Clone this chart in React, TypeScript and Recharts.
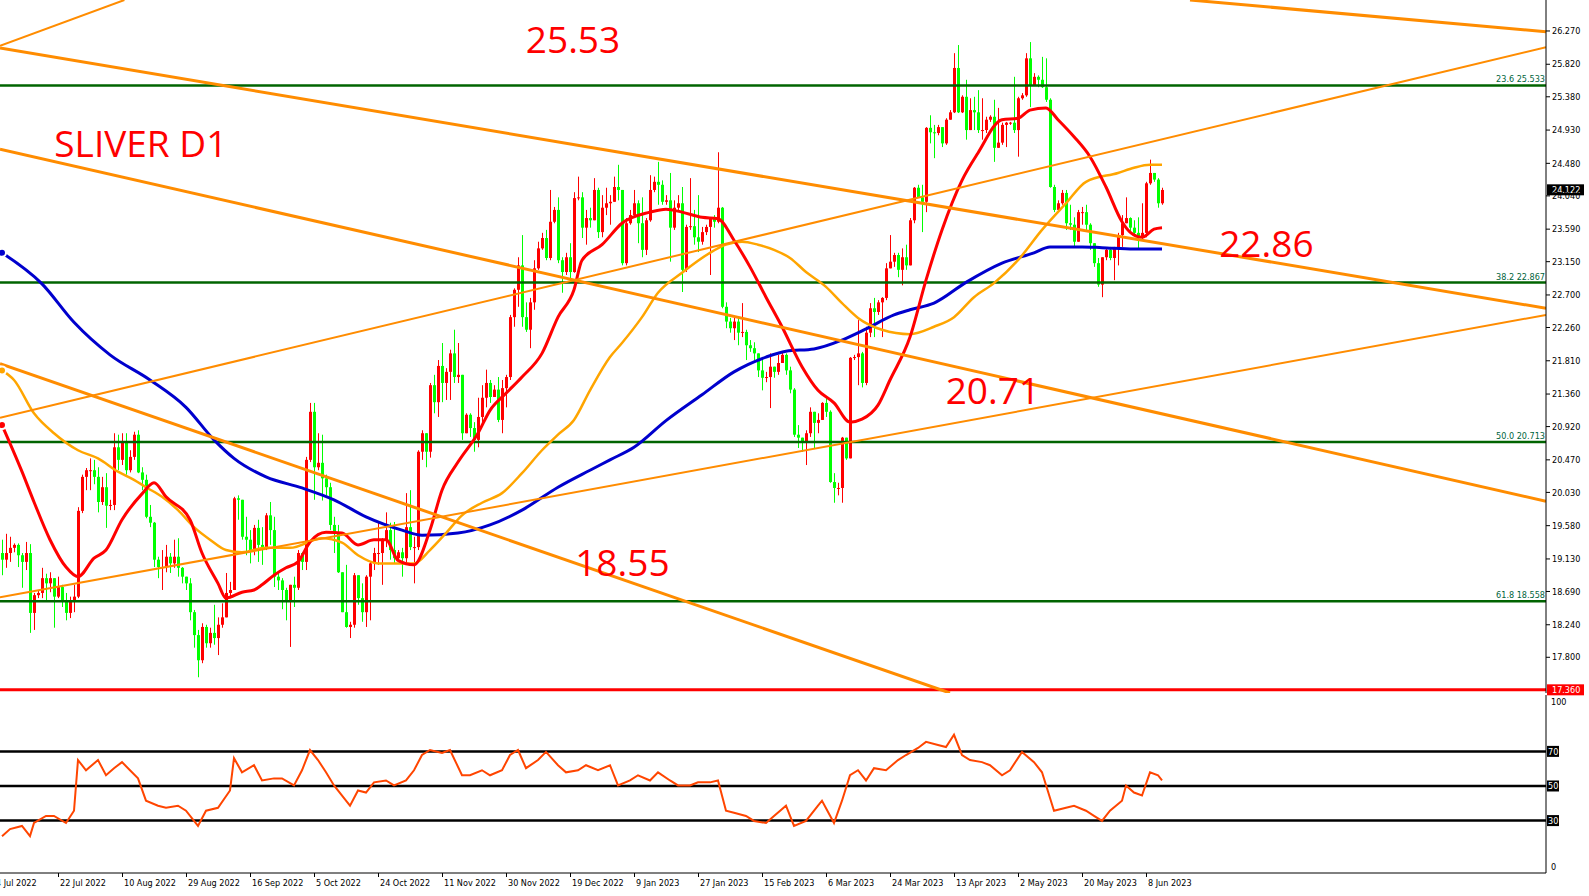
import { ComposedChart, Bar, Line, XAxis, YAxis, ReferenceLine, ReferenceDot } from 'recharts';

const NARROW = "'Liberation Sans Narrow', 'DejaVu Sans Condensed', 'Liberation Sans', sans-serif";
const SMALL = 9;

// daily bars, one per index (Sunday bars included); open = previous close
const firstOpen = 19.21;
const close = [
  19.12, 19.21, 19.28, 19.32, 19.18, 19.09, 19.21, 18.40, 18.64, 18.67,
  18.87, 18.80, 18.87, 18.62, 18.75, 18.57, 18.40, 18.57, 18.62, 19.78,
  20.24, 20.33, 20.33, 20.24, 19.90, 20.10, 19.85, 19.86, 20.64, 20.47,
  20.71, 20.33, 20.51, 20.81, 20.30, 20.20, 19.70, 19.62, 19.12, 19.02,
  19.02, 19.16, 19.07, 19.16, 19.01, 18.89, 18.80, 18.41, 18.10, 17.76,
  18.21, 17.99, 18.13, 18.06, 18.24, 18.34, 18.67, 18.71, 19.95, 19.93,
  19.43, 19.39, 19.25, 19.55, 19.32, 19.29, 19.72, 19.52, 18.89, 18.84,
  18.71, 18.55, 18.78, 18.74, 19.21, 19.09, 20.47, 21.12, 20.37, 20.43,
  20.22, 20.10, 19.59, 19.48, 18.95, 18.41, 18.21, 18.24, 18.91, 18.60,
  18.41, 18.89, 19.07, 19.21, 19.21, 19.39, 19.52, 19.25, 19.14, 19.22,
  19.14, 19.56, 19.29, 19.29, 20.58, 20.83, 20.58, 21.48, 21.25, 21.74,
  21.51, 21.66, 21.91, 21.59, 21.62, 20.83, 21.08, 20.90, 20.74, 21.05,
  21.31, 21.51, 21.32, 21.42, 21.01, 21.44, 21.59, 22.40, 22.77, 23.10,
  22.40, 22.23, 22.60, 23.06, 23.33, 23.47, 23.20, 23.69, 23.85, 23.17,
  23.01, 23.21, 23.01, 24.01, 24.02, 23.61, 23.74, 23.71, 24.12, 23.55,
  23.88, 23.94, 23.96, 24.16, 24.12, 23.13, 23.67, 23.78, 23.94, 23.67,
  23.31, 23.71, 24.12, 24.23, 24.19, 23.96, 23.98, 23.61, 23.88, 23.94,
  23.04, 23.62, 23.63, 23.48, 23.42, 23.55, 23.62, 23.74, 23.69, 23.88,
  22.54, 22.34, 22.25, 22.34, 22.19, 22.20, 22.02, 21.98, 21.91, 21.68,
  21.58, 21.59, 21.73, 21.66, 21.78, 21.89, 21.68, 21.42, 20.81, 20.77,
  20.71, 20.83, 21.12, 20.97, 21.01, 21.24, 21.12, 20.17, 20.09, 20.09,
  20.77, 20.49, 21.85, 21.86, 21.91, 21.51, 22.19, 22.52, 22.47, 22.60,
  22.66, 23.06, 23.15, 23.24, 23.04, 23.21, 23.10, 23.71, 24.15, 24.02,
  23.96, 24.96, 24.90, 24.89, 24.97, 24.75, 25.07, 25.17, 25.77, 25.17,
  25.38, 24.93, 25.20, 25.17, 24.93, 24.93, 25.07, 25.11, 24.69, 24.76,
  25.00, 25.03, 25.03, 24.93, 25.36, 25.40, 25.90, 25.54, 25.65, 25.61,
  25.51, 25.34, 24.16, 23.85, 23.94, 24.08, 23.67, 23.65, 23.42, 23.82,
  23.82, 23.65, 23.40, 23.13, 22.84, 23.21, 23.31, 23.20, 23.33, 23.51,
  23.67, 23.74, 23.61, 23.54, 23.47, 23.54, 24.21, 24.35, 24.26, 23.94,
  24.12,
];
const high = [
  19.39, 19.47, 19.43, 19.34, 19.34, 19.21, 19.36, 19.33, 18.67, 18.71,
  19.01, 18.93, 18.95, 18.85, 18.89, 18.78, 18.67, 18.62, 18.78, 19.83,
  20.27, 20.36, 20.49, 20.47, 20.37, 20.24, 20.29, 19.93, 20.83, 20.81,
  20.83, 20.83, 20.60, 20.85, 20.87, 20.37, 20.27, 19.86, 19.63, 19.16,
  19.25, 19.32, 19.21, 19.39, 19.41, 19.02, 18.87, 18.87, 18.44, 18.17,
  18.26, 18.24, 18.20, 18.51, 18.34, 18.53, 18.94, 18.82, 19.97, 19.99,
  19.70, 19.70, 19.52, 19.59, 19.66, 19.56, 19.75, 19.90, 19.70, 18.94,
  18.87, 18.74, 18.78, 18.89, 19.25, 19.22, 20.51, 21.24, 21.24, 20.83,
  20.81, 20.27, 20.16, 19.70, 19.59, 18.95, 19.05, 18.28, 18.94, 18.78,
  18.80, 18.91, 19.09, 19.28, 19.62, 19.41, 19.76, 19.62, 19.63, 19.25,
  19.28, 20.02, 20.06, 19.43, 20.60, 20.87, 20.83, 21.51, 21.62, 21.82,
  22.05, 21.71, 21.96, 22.23, 22.05, 21.59, 21.10, 21.10, 20.98, 21.31,
  21.48, 21.69, 21.55, 21.48, 21.59, 21.55, 21.62, 22.43, 22.79, 23.21,
  23.51, 22.60, 22.66, 23.17, 23.42, 23.54, 23.58, 24.12, 23.89, 24.02,
  23.21, 23.27, 23.40, 24.09, 24.30, 24.09, 23.85, 23.88, 24.28, 24.15,
  24.05, 24.15, 24.05, 24.30, 24.46, 24.12, 23.74, 23.85, 24.12, 23.98,
  24.02, 23.74, 24.32, 24.30, 24.50, 24.25, 24.05, 24.35, 23.98, 24.05,
  24.16, 23.65, 24.28, 23.85, 24.05, 23.62, 23.65, 23.75, 23.78, 24.63,
  23.89, 22.60, 22.39, 22.40, 22.40, 22.59, 22.23, 22.09, 22.06, 21.86,
  21.82, 21.66, 21.91, 21.71, 21.89, 21.93, 21.91, 21.73, 21.44, 20.94,
  20.74, 20.87, 21.18, 21.12, 21.10, 21.25, 21.31, 21.14, 20.29, 20.16,
  20.78, 20.67, 21.86, 21.89, 22.36, 21.93, 22.27, 22.59, 22.66, 22.63,
  22.67, 23.13, 23.51, 23.27, 23.27, 23.33, 23.38, 23.74, 24.16, 24.19,
  24.19, 24.97, 25.13, 25.00, 25.00, 24.80, 25.09, 25.20, 25.97, 26.08,
  25.40, 25.61, 25.36, 25.38, 25.47, 25.36, 25.11, 25.13, 25.34, 25.23,
  25.03, 25.04, 25.04, 25.65, 25.38, 25.43, 25.97, 26.12, 25.70, 25.67,
  25.92, 25.90, 25.36, 24.19, 23.98, 24.12, 24.12, 23.92, 23.75, 23.85,
  23.89, 23.92, 23.67, 23.40, 23.20, 23.21, 23.33, 23.35, 23.35, 23.54,
  23.78, 24.02, 23.75, 23.71, 23.75, 23.94, 24.23, 24.53, 24.35, 24.28,
  24.15,
];
const low = [
  18.91, 19.01, 19.09, 19.22, 19.02, 18.74, 18.98, 18.13, 18.17, 18.60,
  18.60, 18.57, 18.68, 18.20, 18.60, 18.48, 18.30, 18.33, 18.41, 18.60,
  19.75, 20.06, 20.06, 20.14, 19.76, 19.86, 19.55, 19.79, 19.79, 20.33,
  20.40, 20.27, 20.30, 20.47, 20.29, 20.06, 19.68, 19.56, 19.02, 18.87,
  18.71, 18.95, 18.94, 19.01, 18.89, 18.80, 18.71, 18.30, 17.93, 17.53,
  17.72, 17.93, 17.93, 17.97, 17.83, 18.20, 18.40, 18.60, 18.80, 19.66,
  19.39, 19.18, 19.07, 19.18, 19.09, 19.05, 19.25, 19.32, 18.75, 18.71,
  18.45, 18.30, 17.94, 18.48, 18.71, 18.98, 18.98, 20.44, 19.93, 20.33,
  19.92, 19.99, 19.52, 19.21, 18.94, 18.41, 18.20, 18.06, 18.20, 18.51,
  18.28, 18.21, 18.30, 18.98, 19.05, 18.78, 19.29, 19.12, 19.07, 19.09,
  18.89, 19.07, 19.25, 18.80, 19.25, 20.47, 20.37, 20.50, 21.10, 21.05,
  21.25, 21.28, 21.28, 21.51, 21.51, 20.74, 20.83, 20.78, 20.58, 20.64,
  20.94, 21.18, 21.24, 21.32, 20.98, 20.83, 21.18, 21.55, 22.27, 22.54,
  22.27, 22.20, 21.98, 22.50, 23.04, 23.31, 23.17, 23.17, 23.67, 23.13,
  22.73, 22.97, 22.88, 23.00, 23.98, 23.47, 23.38, 23.61, 23.89, 23.47,
  23.48, 23.78, 23.65, 24.02, 23.98, 23.10, 23.10, 23.65, 23.78, 23.40,
  23.21, 23.24, 23.69, 24.09, 23.92, 23.92, 23.92, 23.15, 23.58, 23.85,
  22.74, 23.01, 23.58, 23.38, 23.28, 23.38, 23.51, 22.97, 23.61, 23.67,
  22.52, 22.25, 22.19, 22.09, 22.02, 22.13, 21.82, 21.93, 21.82, 21.59,
  21.41, 21.52, 21.17, 21.58, 21.62, 21.79, 21.62, 21.37, 20.78, 20.63,
  20.58, 20.40, 20.78, 20.63, 20.83, 21.18, 21.05, 20.16, 19.89, 19.99,
  19.89, 20.47, 20.58, 21.82, 21.48, 21.45, 21.48, 22.13, 22.13, 22.43,
  22.13, 22.63, 23.06, 23.08, 22.94, 22.83, 23.04, 23.24, 23.67, 24.02,
  23.55, 23.82, 24.75, 24.55, 24.86, 24.70, 24.73, 25.07, 25.16, 25.16,
  25.16, 24.80, 24.93, 24.93, 24.89, 24.80, 24.89, 25.04, 24.50, 24.70,
  24.73, 24.70, 25.00, 24.89, 24.57, 25.34, 25.38, 25.24, 25.57, 25.51,
  25.50, 25.31, 24.15, 23.82, 23.82, 23.92, 23.58, 23.58, 23.35, 23.48,
  23.65, 23.58, 23.31, 23.08, 22.81, 22.67, 23.17, 23.17, 22.90, 23.10,
  23.35, 23.74, 23.55, 23.51, 23.31, 23.44, 23.48, 24.19, 24.23, 23.88,
  23.92,
];

// moving averages read at sample bars: [bar, value]
const fastMa = [[0,20.94],[5,20.31],[8,19.90],[12,19.39],[16,19.02],[19,18.89],[23,19.14],[26,19.25],[30,19.66],[35,20.01],[38,20.16],[41,19.97],[47,19.66],[50,19.21],[54,18.80],[56,18.60],[60,18.68],[63,18.71],[65,18.78],[68,18.91],[71,19.01],[74,19.09],[77,19.36],[81,19.49],[85,19.48],[89,19.32],[93,19.39],[96,19.39],[99,19.11],[103,19.05],[107,19.52],[110,20.06],[114,20.44],[119,20.83],[122,21.14],[126,21.37],[130,21.59],[135,21.91],[139,22.40],[143,22.77],[145,23.17],[150,23.38],[155,23.67],[162,23.82],[166,23.86],[170,23.82],[175,23.75],[179,23.73],[183,23.44],[187,23.08],[191,22.67],[195,22.27],[200,21.73],[204,21.41],[208,21.24],[212,20.98],[215,21.02],[219,21.21],[222,21.55],[227,22.13],[231,22.90],[235,23.58],[240,24.25],[244,24.62],[250,25.07],[254,25.09],[257,25.20],[261,25.23],[264,25.07],[268,24.84],[272,24.57],[276,24.16],[280,23.69],[282,23.55],[285,23.48],[288,23.59],[290,23.61]];
const midMa = [[0,21.68],[3,21.55],[8,21.10],[13,20.83],[19,20.60],[24,20.49],[29,20.31],[33,20.20],[36,20.10],[40,19.97],[44,19.79],[48,19.56],[52,19.39],[56,19.25],[60,19.22],[66,19.28],[72,19.28],[80,19.41],[85,19.35],[89,19.18],[94,19.07],[100,19.07],[103,19.07],[107,19.25],[111,19.48],[115,19.72],[120,19.89],[125,20.02],[130,20.29],[135,20.60],[139,20.81],[143,21.01],[147,21.41],[152,21.86],[155,22.05],[160,22.40],[164,22.73],[170,23.00],[177,23.27],[181,23.38],[185,23.42],[189,23.38],[193,23.31],[197,23.20],[201,23.01],[206,22.81],[210,22.59],[214,22.39],[220,22.23],[227,22.17],[233,22.27],[238,22.40],[243,22.67],[248,22.86],[254,23.17],[260,23.58],[266,23.94],[271,24.23],[279,24.35],[283,24.42],[287,24.46],[290,24.46]];
const slowMa = [[0,23.27],[10,22.85],[18,22.33],[27,21.89],[37,21.55],[46,21.18],[53,20.74],[58,20.49],[66,20.24],[75,20.09],[83,19.93],[91,19.70],[100,19.52],[105,19.45],[114,19.48],[122,19.59],[130,19.79],[139,20.10],[147,20.33],[152,20.47],[158,20.64],[166,21.00],[175,21.35],[183,21.66],[191,21.86],[196,21.94],[203,21.97],[210,22.09],[216,22.24],[223,22.43],[227,22.50],[233,22.59],[241,22.87],[250,23.13],[258,23.27],[262,23.35],[270,23.35],[275,23.34],[283,23.32],[290,23.32]];

const rsiPts = [[0,21.0],[2,25.1],[5,26.9],[7,21.0],[8,28.6],[11,32.7],[13,32.7],[16,28.6],[18,35.7],[19,65.0],[21,59.1],[24,65.0],[26,56.2],[28,60.3],[30,63.8],[32,59.1],[34,54.4],[36,41.5],[39,38.6],[41,37.4],[44,38.6],[46,35.7],[49,26.9],[51,35.7],[54,37.4],[57,47.4],[58,66.1],[60,57.9],[63,62.0],[65,53.2],[68,54.4],[70,54.4],[73,50.3],[75,59.1],[77,70.8],[79,65.0],[81,57.9],[83,50.3],[86,41.5],[87,38.6],[89,47.4],[91,46.2],[93,52.1],[96,53.2],[98,50.3],[101,53.2],[103,59.1],[105,67.9],[107,70.8],[110,69.1],[112,70.8],[115,56.2],[117,56.2],[120,59.1],[122,56.2],[125,59.1],[127,67.9],[129,70.8],[131,60.3],[134,65.0],[136,69.7],[139,62.0],[141,57.9],[144,59.1],[146,62.0],[149,59.1],[152,62.0],[154,50.3],[157,53.2],[159,56.2],[162,53.2],[164,57.9],[167,53.2],[169,50.3],[172,50.3],[174,52.1],[177,52.1],[179,53.2],[181,35.7],[183,34.5],[186,32.7],[188,29.8],[191,28.6],[193,32.7],[196,38.6],[198,26.9],[201,29.8],[204,38.6],[205,41.5],[208,28.6],[210,41.5],[212,56.2],[214,59.1],[216,53.2],[218,60.3],[221,59.1],[224,65.0],[226,67.9],[229,72.0],[231,75.5],[234,73.7],[236,72.5],[238,79.6],[240,67.9],[242,65.0],[245,63.8],[247,62.0],[250,56.2],[252,59.1],[255,69.7],[258,63.8],[260,57.9],[263,35.7],[266,37.4],[268,38.6],[271,35.7],[273,32.7],[275,29.8],[277,35.7],[280,41.5],[281,50.3],[283,46.2],[285,44.5],[287,57.9],[289,56.2],[290,53.2]];

// trend lines: [bar, price] -> [bar, price]
const thickTrends = [
  [[-0.5, 26.04], [386, 22.52]],
  [[-0.5, 24.67], [386, 19.91]],
  [[-0.5, 21.77], [237, 17.317]],
  [[297, 26.689], [386, 26.26]],
];
const thinTrends = [
  [[-0.5, 21.04], [386, 26.05]],
  [[-0.5, 18.61], [386, 22.43]],
  [[-0.5, 26.07], [30.6, 26.689]],
];

const fibPct = ['23.6', '38.2', '50.0', '61.8'];
const fibLevels = [25.533, 22.867, 20.713, 18.558];
const lastPrice = 24.122;
const lowLine = 17.36;

const notes = ['25.53', 'SLIVER D1', '22.86', '20.71', '18.55'];
const notePos = [[142.75, 26.155], [34.7, 24.75], [316.1, 23.39], [247.7, 21.41], [155.1, 19.08]];

const priceTicks = [17.8, 18.24, 18.69, 19.13, 19.58, 20.03, 20.47, 20.92, 21.36, 21.81, 22.26, 22.7, 23.15, 23.59, 24.04, 24.48, 24.93, 25.38, 25.82, 26.27];
const dateTicks = [-2, 14, 30, 46, 62, 78, 94, 110, 126, 142, 158, 174, 190, 206, 222, 238, 254, 270, 286];
const dateLabels = ['4 Jul 2022', '22 Jul 2022', '10 Aug 2022', '29 Aug 2022', '16 Sep 2022', '5 Oct 2022', '24 Oct 2022', '11 Nov 2022', '30 Nov 2022', '19 Dec 2022', '9 Jan 2023', '27 Jan 2023', '15 Feb 2023', '6 Mar 2023', '24 Mar 2023', '13 Apr 2023', '2 May 2023', '20 May 2023', '8 Jun 2023'];
const rsiLevels = [70, 50, 30];
const rsiEnds = [0, 100];

const X_DOMAIN = [-0.5, 386];

const toMap = (pts: number[][]) => new Map(pts.map(([i, v]) => [i, v]));
const fastMap = toMap(fastMa);
const midMap = toMap(midMa);
const slowMap = toMap(slowMa);

const rows = close.map((c, i) => {
  const o = i === 0 ? firstOpen : close[i - 1];
  return {
    i,
    open: o,
    close: c,
    high: Math.max(high[i], o, c),
    low: Math.min(low[i], o, c),
    fast: fastMap.get(i) ?? null,
    mid: midMap.get(i) ?? null,
    slow: slowMap.get(i) ?? null,
  };
});
const rsiRows = rsiPts.map(([i, v]) => ({ i, rsi: v }));

const Candle = (props: any) => {
  const { x, y, width, height, payload } = props;
  if (!payload || x == null || y == null) return null;
  const top = Math.min(y, y + height);
  const span = Math.abs(height);
  const rng = payload.high - payload.low || 1;
  const py = (v: number) => top + ((payload.high - v) / rng) * span;
  const cx = Math.round(x + width / 2) + 0.5;
  const color = payload.close >= payload.open ? '#ff0000' : '#00ff00';
  const yo = py(payload.open);
  const yc = py(payload.close);
  return (
    <g>
      <line x1={cx} x2={cx} y1={top} y2={top + span} stroke={color} strokeWidth={1} />
      <rect x={cx - 1.5} y={Math.min(yo, yc)} width={3} height={Math.max(1, Math.abs(yo - yc))} fill={color} />
    </g>
  );
};

const DateTick = ({ x, y, payload }: any) => {
  const k = dateTicks.indexOf(payload.value);
  return (
    <g>
      <line x1={x + 0.5} x2={x + 0.5} y1={y} y2={y + 4} stroke="#000" />
      <text x={x + 2} y={y + 13} fontSize={SMALL} fontFamily={NARROW} fill="#000" textAnchor="start">
        {dateLabels[k]}
      </text>
    </g>
  );
};

const RsiTick = ({ x, y, payload }: any) => (
  <text x={x + 5} y={y} dy={payload.value > 50 ? 6 : -2} fontSize={SMALL} fontFamily={NARROW} fill="#000" textAnchor="start">
    {payload.value}
  </text>
);

const axisBox = (text: string, bg: string, w: number, pad: number) => (p: any) => {
  const vb = p.viewBox;
  const x0 = vb.x + vb.width + 1;
  return (
    <g>
      <rect x={x0} y={vb.y - 5.5} width={w} height={11} fill={bg} />
      <text x={x0 + pad} y={vb.y + 3.5} fontSize={SMALL} fontFamily={NARROW} fill="#fff">{text}</text>
    </g>
  );
};

export default function App() {
  return (
    <div style={{ position: 'relative', width: 1589, height: 896, background: '#fff', overflow: 'hidden' }}>
      <style>{'body{margin:0}'}</style>
      <div style={{ position: 'absolute', left: 0, top: 695 }}>
        <ComposedChart width={1589} height={201} data={rsiRows} margin={{ top: 0, right: 0, bottom: 0, left: 0 }}>
          <XAxis
            type="number"
            dataKey="i"
            domain={X_DOMAIN}
            allowDataOverflow
            ticks={dateTicks}
            interval={0}
            height={23}
            tickSize={0}
            tickMargin={0}
            axisLine={{ stroke: '#000' }}
            tickLine={false}
            tick={<DateTick />}
          />
          <XAxis xAxisId="top" type="number" dataKey="i" orientation="top" domain={X_DOMAIN} allowDataOverflow height={0} tick={false} tickLine={false} axisLine={{ stroke: '#000' }} />
          <YAxis
            orientation="right"
            width={43}
            domain={[-0.3, 102.6]}
            allowDataOverflow
            ticks={rsiEnds}
            interval={0}
            tickLine={false}
            tickSize={0}
            tickMargin={0}
            axisLine={{ stroke: '#000' }}
            tick={<RsiTick />}
          />
          {rsiLevels.map((v) => (
            <ReferenceLine key={v} y={v} stroke="#000" strokeWidth={2.5} label={axisBox(String(v), '#000', 12, 1)} />
          ))}
          <Line dataKey="rsi" type="linear" stroke="#ff4500" strokeWidth={2} dot={false} isAnimationActive={false} />
        </ComposedChart>
      </div>
      <div style={{ position: 'absolute', left: 0, top: 0 }}>
        <ComposedChart width={1589} height={698} data={rows} margin={{ top: 0, right: 0, bottom: 5, left: 0 }}>
          <XAxis type="number" dataKey="i" domain={X_DOMAIN} allowDataOverflow hide />
          <YAxis
            orientation="right"
            width={43}
            domain={[17.317, 26.689]}
            allowDataOverflow
            ticks={priceTicks}
            interval={0}
            tickFormatter={(v: number) => v.toFixed(3)}
            tickSize={4}
            tickMargin={2}
            axisLine={{ stroke: '#000' }}
            tickLine={{ stroke: '#000' }}
            tick={{ fontSize: SMALL, fontFamily: NARROW, fill: '#000' }}
          />
          {fibLevels.map((v, k) => (
            <ReferenceLine
              key={'f' + k}
              y={v}
              stroke="#006400"
              strokeWidth={2.5}
              label={(p: any) => (
                <text x={p.viewBox.x + p.viewBox.width - 1} y={p.viewBox.y - 3} textAnchor="end" fontSize={SMALL} fontFamily={NARROW} fill="#00643c">
                  {fibPct[k] + ' ' + v.toFixed(3)}
                </text>
              )}
            />
          ))}
          <ReferenceLine y={lowLine} stroke="#ff0000" strokeWidth={3} label={axisBox(lowLine.toFixed(3), '#ff0000', 37, 5)} />
          <ReferenceLine y={lastPrice} stroke="none" label={axisBox(lastPrice.toFixed(3), '#000', 37, 5)} />
          <Bar dataKey={(d: any) => [d.low, d.high]} shape={Candle} barSize={3} isAnimationActive={false} />
          <Line dataKey="slow" type="monotone" stroke="#0000cd" strokeWidth={3} dot={false} connectNulls isAnimationActive={false} />
          <Line dataKey="mid" type="monotone" stroke="#ffa500" strokeWidth={2.5} dot={false} connectNulls isAnimationActive={false} />
          <Line dataKey="fast" type="monotone" stroke="#ff0000" strokeWidth={3} dot={false} connectNulls isAnimationActive={false} />
          {thickTrends.map(([a, b], k) => (
            <ReferenceLine key={'t' + k} segment={[{ x: a[0], y: a[1] }, { x: b[0], y: b[1] }]} stroke="#ff8c00" strokeWidth={3} ifOverflow="hidden" />
          ))}
          {thinTrends.map(([a, b], k) => (
            <ReferenceLine key={'n' + k} segment={[{ x: a[0], y: a[1] }, { x: b[0], y: b[1] }]} stroke="#ff8c00" strokeWidth={2} ifOverflow="hidden" />
          ))}
          {notes.map((t, k) => (
            <ReferenceDot
              key={'a' + k}
              x={notePos[k][0]}
              y={notePos[k][1]}
              r={0}
              fill="none"
              stroke="none"
              label={(p: any) => (
                <text
                  x={p.viewBox.x + (p.viewBox.width || 0) / 2}
                  y={p.viewBox.y + (p.viewBox.height || 0) / 2}
                  dy="0.36em"
                  textAnchor="middle"
                  fontSize={37}
                  fontFamily="'Open Sans', sans-serif"
                  fill="#ff0000"
                >
                  {t}
                </text>
              )}
            />
          ))}
        </ComposedChart>
      </div>
    </div>
  );
}
